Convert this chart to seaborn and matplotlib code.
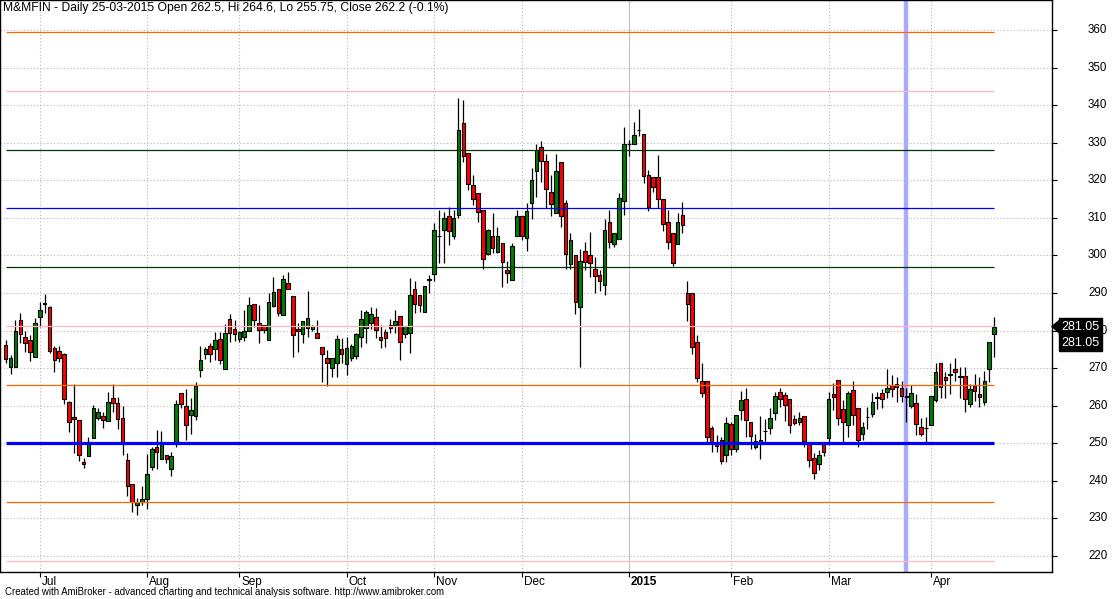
import numpy as np
import pandas as pd
import seaborn as sns
import matplotlib
matplotlib.use("Agg")
from matplotlib import pyplot as plt
from matplotlib import transforms
from matplotlib.patches import Polygon

# daily OHLC, 20-Jun-2014 .. Apr-2015 (one entry per trading day)
opens = [276.1, 270.2, 270.4, 282.7, 278.2, 277.4, 273.1, 283.5, 287.3, 286.4,
         275.3, 274.7, 273.8, 260.9, 257.0, 256.1, 245.0, 246.7, 251.4, 256.8,
         257.3, 256.0, 262.0, 260.6, 256.6, 245.5, 239.1, 233.5, 234.5, 235.1,
         243.6, 248.9, 245.7, 247.0, 243.2, 249.7, 263.3, 259.9, 257.6, 257.2,
         269.4, 273.9, 275.8, 275.0, 277.8, 269.8, 283.0, 280.3, 277.8, 278.3,
         279.8, 287.0, 282.1, 281.4, 277.6, 286.5, 291.0, 284.1, 292.6, 289.2,
         280.4, 279.1, 280.6, 280.5, 279.3, 275.5, 272.7, 270.0, 271.3, 275.1,
         271.0, 272.6, 273.2, 278.4, 280.6, 281.9, 283.7, 278.4, 279.7, 281.6,
         281.6, 284.0, 279.0, 279.3, 291.0, 289.4, 284.9, 293.6, 295.0, 305.2,
         306.9, 310.6, 305.3, 310.9, 335.2, 327.4, 318.8, 316.5, 312.0, 300.3,
         305.3, 300.8, 303.2, 296.0, 293.6, 305.3, 310.5, 304.7, 313.9, 322.4,
         328.9, 325.1, 317.0, 311.2, 324.8, 313.9, 297.6, 300.0, 286.2, 301.3,
         300.2, 296.5, 294.9, 292.1, 309.0, 303.0, 304.3, 314.4, 329.6, 329.6,
         333.4, 332.2, 321.4, 320.8, 320.9, 314.9, 309.0, 305.9, 303.0, 310.9,
         289.9, 289.9, 276.9, 266.6, 266.6, 254.0, 250.2, 251.0, 246.9, 255.1,
         248.6, 258.9, 261.7, 255.7, 248.9, 249.7, 253.3, 254.0, 258.0, 263.6,
         262.8, 261.9, 256.4, 255.7, 257.3, 250.2, 246.0, 244.4, 250.2, 251.3,
         263.1, 266.8, 259.0, 254.9, 264.2, 259.3, 252.6, 256.9, 257.7, 262.1,
         263.5, 263.7, 265.4, 265.9, 264.8, 262.5, 259.9, 260.6, 254.4, 254.0,
         255.0, 261.5, 271.3, 267.7, 268.3, 269.9, 267.7, 268.0, 260.4, 265.3,
         263.1, 260.9, 269.9, 279.1]
highs = [277.5, 273.5, 282.8, 284.7, 280.0, 278.8, 283.3, 287.7, 289.7, 286.6,
         276.0, 275.9, 274.0, 261.2, 265.9, 256.1, 246.0, 251.6, 260.2, 259.3,
         258.4, 263.6, 265.7, 262.2, 260.0, 247.4, 239.1, 235.4, 238.6, 247.1,
         249.1, 253.5, 253.3, 247.0, 247.8, 261.5, 263.3, 264.4, 262.0, 266.3,
         275.9, 275.5, 276.8, 279.6, 279.6, 281.7, 284.4, 282.8, 280.0, 285.5,
         289.0, 287.0, 286.8, 281.4, 289.9, 294.2, 291.0, 294.9, 295.7, 289.2,
         281.9, 282.5, 290.5, 281.5, 282.8, 275.5, 274.8, 272.7, 278.7, 278.0,
         278.4, 276.5, 279.3, 285.6, 285.6, 286.2, 285.9, 281.4, 280.3, 283.2,
         285.5, 284.0, 281.2, 293.9, 293.2, 289.4, 291.8, 294.8, 308.7, 312.1,
         311.7, 312.9, 312.1, 341.8, 341.5, 327.4, 321.4, 316.5, 312.0, 307.0,
         311.2, 307.6, 303.2, 298.6, 303.2, 312.1, 310.5, 313.9, 323.2, 329.8,
         330.5, 326.9, 321.4, 326.9, 324.8, 314.8, 306.1, 300.0, 301.7, 303.7,
         306.3, 299.7, 296.1, 309.6, 312.1, 306.1, 316.5, 334.3, 330.7, 335.4,
         339.1, 332.2, 322.7, 320.8, 326.7, 314.9, 312.1, 305.9, 311.2, 314.1,
         293.2, 289.9, 278.8, 271.3, 266.6, 254.6, 252.2, 251.7, 257.1, 255.7,
         257.5, 264.0, 264.6, 255.7, 252.6, 257.3, 256.4, 259.5, 263.7, 264.7,
         263.6, 261.9, 257.5, 258.4, 257.3, 250.2, 247.5, 248.2, 250.2, 263.7,
         266.1, 266.8, 261.5, 264.0, 266.6, 259.3, 255.7, 259.7, 263.3, 263.7,
         264.4, 269.7, 268.2, 267.7, 266.6, 264.6, 265.5, 263.0, 256.6, 257.1,
         262.7, 271.3, 271.3, 269.1, 271.3, 272.6, 270.4, 270.4, 265.7, 268.4,
         267.7, 269.2, 276.9, 283.5]
lows = [271.3, 268.4, 270.4, 276.6, 274.4, 272.0, 273.1, 281.0, 284.6, 274.0,
        269.1, 271.7, 260.4, 252.9, 247.3, 245.3, 243.3, 246.7, 251.4, 256.2,
        254.0, 256.0, 258.4, 253.9, 246.8, 236.1, 231.8, 230.8, 233.7, 232.4,
        242.9, 243.2, 245.7, 244.8, 241.4, 249.1, 259.3, 250.9, 252.4, 256.3,
        267.7, 272.4, 271.7, 272.2, 271.0, 269.8, 277.0, 277.2, 277.0, 277.3,
        279.8, 281.0, 276.8, 279.3, 277.6, 286.3, 284.0, 284.1, 291.2, 273.0,
        274.4, 276.6, 278.4, 280.0, 277.9, 266.4, 265.3, 267.7, 267.7, 271.3,
        268.3, 272.0, 272.5, 275.7, 276.8, 280.3, 277.9, 275.3, 275.7, 279.4,
        279.4, 272.3, 278.0, 274.1, 284.6, 285.0, 284.9, 289.9, 293.3, 298.1,
        298.0, 302.7, 304.3, 309.9, 324.9, 317.4, 313.4, 309.0, 296.3, 300.0,
        300.7, 300.6, 291.5, 292.7, 293.6, 305.3, 304.1, 301.3, 309.6, 315.6,
        319.6, 312.5, 310.6, 311.2, 307.6, 296.3, 296.3, 284.3, 270.4, 296.0,
        294.3, 290.1, 290.5, 289.4, 301.9, 302.3, 304.3, 310.8, 326.5, 329.6,
        331.9, 319.2, 311.9, 317.0, 312.5, 306.6, 301.7, 297.2, 303.0, 306.0,
        282.6, 273.9, 266.4, 262.4, 250.4, 247.8, 247.8, 244.6, 245.1, 246.9,
        247.8, 256.2, 251.8, 248.6, 248.6, 245.9, 250.4, 252.6, 256.2, 259.7,
        256.0, 252.8, 254.9, 254.9, 249.1, 243.8, 240.4, 242.9, 246.7, 249.5,
        258.9, 255.0, 250.4, 251.6, 255.0, 248.9, 251.0, 253.7, 257.1, 259.1,
        259.3, 262.0, 262.4, 261.1, 261.1, 255.75, 259.3, 252.2, 251.9, 250.2,
        255.0, 261.1, 262.0, 262.1, 263.0, 266.6, 262.0, 258.4, 259.7, 261.3,
        259.6, 260.2, 266.4, 272.9]
closes = [272.4, 272.6, 279.9, 279.0, 276.6, 274.2, 281.9, 285.4, 287.2, 274.5,
          272.3, 272.8, 261.7, 255.6, 256.4, 246.8, 244.4, 250.2, 259.3, 258.3,
          256.2, 260.9, 260.6, 256.4, 250.2, 238.7, 234.5, 234.5, 235.3, 241.7,
          248.6, 247.8, 249.8, 245.9, 246.5, 260.4, 260.4, 254.8, 258.9, 265.3,
          272.2, 275.0, 273.8, 277.5, 272.3, 279.3, 279.4, 279.2, 279.6, 279.8,
          286.8, 282.7, 280.1, 280.1, 287.5, 290.4, 284.6, 293.7, 291.2, 278.7,
          279.8, 282.5, 283.3, 281.1, 277.9, 273.8, 271.3, 272.7, 277.7, 273.8,
          275.3, 275.9, 279.1, 283.2, 284.9, 284.3, 280.1, 277.5, 277.9, 280.8,
          282.5, 276.9, 281.2, 289.5, 287.0, 286.7, 291.8, 293.7, 306.7, 305.3,
          310.0, 306.4, 310.0, 333.3, 326.5, 318.9, 315.0, 311.6, 299.0, 306.9,
          301.9, 305.1, 298.3, 295.4, 302.5, 310.5, 305.3, 311.8, 320.2, 328.2,
          325.1, 317.6, 313.6, 322.6, 310.6, 300.3, 304.0, 287.6, 298.4, 298.3,
          297.9, 294.5, 293.2, 306.9, 303.5, 306.0, 315.2, 329.6, 329.7, 332.0,
          333.5, 321.2, 313.0, 318.1, 314.9, 308.5, 303.7, 298.1, 308.8, 308.0,
          287.2, 275.5, 267.5, 263.3, 251.8, 250.2, 249.3, 245.3, 255.3, 248.4,
          257.5, 261.5, 256.2, 251.9, 250.6, 251.0, 253.4, 256.6, 262.6, 261.7,
          260.1, 255.0, 255.3, 256.6, 250.7, 245.5, 242.0, 247.0, 247.8, 261.7,
          262.2, 256.6, 255.7, 263.3, 257.5, 250.9, 254.3, 257.0, 260.9, 262.2,
          261.7, 264.6, 264.5, 265.1, 262.6, 262.2, 263.3, 255.1, 252.6, 254.1,
          262.7, 268.9, 264.9, 266.8, 268.4, 268.9, 267.8, 261.7, 264.4, 263.8,
          262.4, 266.7, 276.9, 281.05]

month_labels = ['Jul', 'Aug', 'Sep', 'Oct', 'Nov', 'Dec', '2015', 'Feb', 'Mar', 'Apr']
month_bars = [7, 29, 48, 70, 88, 106, 128, 149, 169, 190]
price_ticks = [220, 230, 240, 250, 260, 270, 280, 290, 300, 310, 320, 330, 340, 350, 360]

levels = [218.75, 234.375, 250.0, 265.625, 281.25, 296.875, 312.5, 328.125, 343.75, 359.375]
level_colors = ['#ffb6c1', '#ff6600', '#0000ff', '#ff6600', '#ffb6c1',
                '#003800', '#0000ff', '#003800', '#ffb6c1', '#ff6600']
cursor_bar = 185
title = 'M&MFIN - Daily 25-03-2015 Open 262.5, Hi 264.6, Lo 255.75, Close 262.2 (-0.1%)'
footer = 'Created with AmiBroker - advanced charting and technical analysis software. http://www.amibroker.com'
last_price = 281.05

sns.set_style('white')
plt.rcParams['font.family'] = ['Liberation Sans', 'DejaVu Sans']

df = pd.DataFrame({'open': opens, 'high': highs, 'low': lows, 'close': closes})
df['bar'] = np.arange(len(df))
df['up'] = df['close'] >= df['open']
df['bottom'] = df[['open', 'close']].min(axis=1)
df['height'] = (df['close'] - df['open']).abs()

W, H = 1112, 599
fig = plt.figure(figsize=(W / 100, H / 100), dpi=100)
ax = fig.add_axes([0.0, 27 / H, 1052 / W, 572 / H])
ax.set_xlim(-1.17, 214.9)
ax.set_ylim(215.74, 368.0)

# grid
ax.set_yticks(price_ticks)
ax.yaxis.grid(True, linestyle=(0, (1, 2)), color='#b4b4b4', linewidth=0.8)
for pos, lab in zip(month_bars, month_labels):
    if lab == '2015':
        ax.axvline(pos, color='#c0c0c0', linewidth=0.8, zorder=0.5)
    else:
        ax.axvline(pos, color='#b4b4b4', linestyle=(0, (1, 2)), linewidth=0.8, zorder=0.5)

# cursor
ax.axvline(cursor_bar, color='#aaaaff', linewidth=3.2, zorder=1)

# candles
ax.vlines(df['bar'], df['low'], df['high'], color='black', linewidth=0.9, zorder=2)
ax.bar(df['bar'], df['height'], bottom=df['bottom'], width=0.74,
       color=np.where(df['up'], '#008000', '#ff0000'),
       edgecolor='black', linewidth=0.8, zorder=3)

# levels
for lv, col in zip(levels, level_colors):
    lw = 2.3 if lv == 250.0 else 0.9
    ax.hlines(lv, 0, len(df) - 1, color=col, linewidth=lw, zorder=4)

# axes styling
for sp in ax.spines.values():
    sp.set_color('black')
    sp.set_linewidth(1.0)
ax.tick_params(axis='y', direction='out', length=3.6, width=0.8, colors='black',
               right=True, left=False, labelright=False, labelleft=False)
ax.set_xticks(month_bars)
ax.set_xticklabels([''] * len(month_bars))
ax.tick_params(axis='x', direction='out', length=3.6, width=0.8, colors='black', bottom=True)

# right price scale labels
ytrans = transforms.blended_transform_factory(ax.transAxes, ax.transData)
for v in price_ticks:
    ax.text(1, v, str(v), transform=ytrans + transforms.ScaledTranslation(36 / 100, 0, fig.dpi_scale_trans),
            ha='left', va='center', fontsize=8.3, color='black', clip_on=False)

trans = transforms.blended_transform_factory(ax.transData, ax.transAxes)
for pos, lab in zip(month_bars, month_labels):
    ax.text(pos, 0, lab, transform=trans + transforms.ScaledTranslation(2 / 100, -4 / 100, fig.dpi_scale_trans),
            ha='left', va='top', fontsize=8.5,
            fontweight='bold' if lab == '2015' else 'normal', color='black')

fig.text(3 / W, 1 - 8 / H, title, ha='left', va='center', fontsize=8.7, color='black')
fig.text(5 / W, 1 - 592 / H, footer, ha='left', va='center', fontsize=6.9, color='black')

# last price tags
fig.canvas.draw()
ypix = ax.transData.transform((0, last_price))[1]
fy = ypix / H
tag_x = 1061 / W
for k in range(2):
    fig.text(tag_x, fy - k * 16 / H, '%.2f' % last_price, ha='left', va='center', fontsize=9,
             color='white', zorder=5,
             bbox=dict(boxstyle='square,pad=0.2', fc='black', ec='black'))
fig.patches.append(Polygon([(1051 / W, fy), (1059 / W, fy + 7 / H), (1059 / W, fy - 7 / H)],
                           closed=True, transform=fig.transFigure, fc='black', ec='none'))

fig.savefig('out.png', dpi=100)
